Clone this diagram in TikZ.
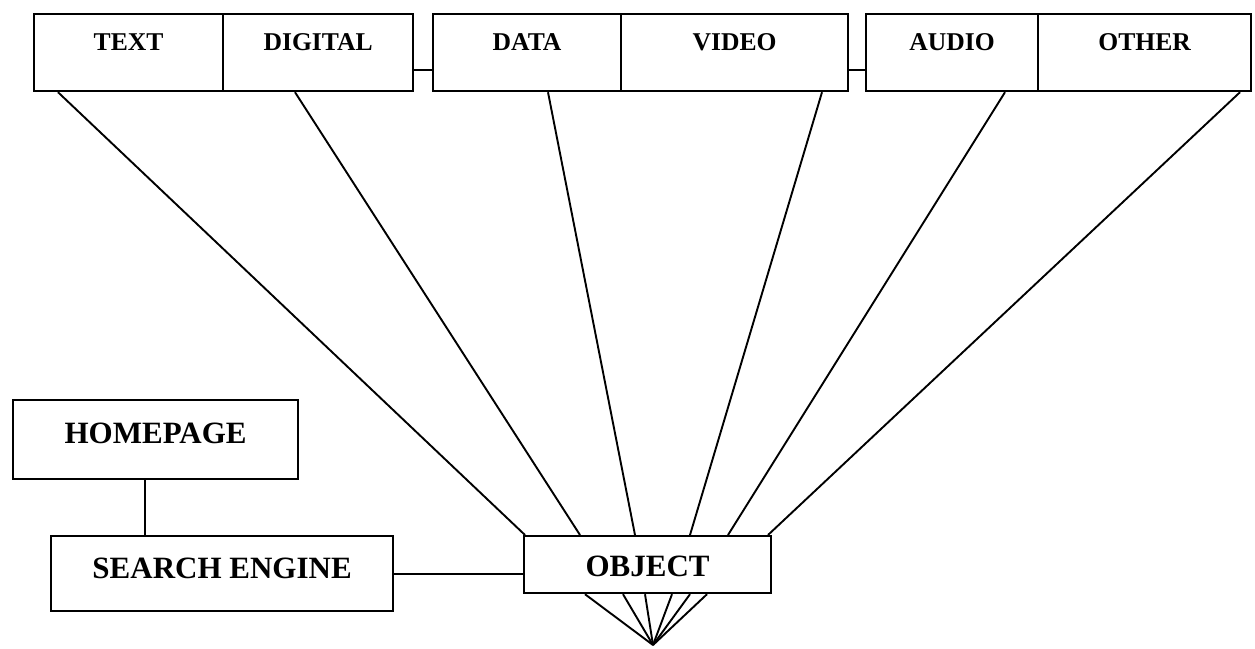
\documentclass[tikz,border=0pt]{standalone}
\usepackage{fontspec}
\setmainfont{Liberation Serif}
\begin{document}
\begin{tikzpicture}[x=1pt,y=-1pt,
  box/.style={draw,line width=2.2pt,inner sep=0pt,font=\bfseries\fontsize{31}{31}\selectfont},
  topbox/.style={box,anchor=north west,minimum height=77pt,text height=36pt,text depth=41pt,font=\bfseries\fontsize{25.6}{26}\selectfont},
  conn/.style={line width=1.9pt}]
\useasboundingbox (0,0) rectangle (1255,648);
% top boxes
\node[topbox,minimum width=189pt] (text) at (33,13) {TEXT};
\node[topbox,minimum width=190pt] (digital) at (222,13) {DIGITAL};
\node[topbox,minimum width=188pt] (data) at (432,13) {DATA};
\node[topbox,minimum width=227pt] (video) at (620,13) {VIDEO};
\node[topbox,minimum width=172pt] (audio) at (865,13) {AUDIO};
\node[topbox,minimum width=213pt] (other) at (1037,13) {OTHER};
% lower boxes
\node[box,anchor=north west,minimum width=285pt,minimum height=79pt,text height=43pt,text depth=36pt] (hp) at (12,399) {HOMEPAGE};
\node[box,anchor=north west,minimum width=342pt,minimum height=75pt,text height=42pt,text depth=33pt] (se) at (50,535) {SEARCH ENGINE};
\node[box,anchor=north west,minimum width=247pt,minimum height=57pt,text height=40pt,text depth=17pt] (object) at (523,535) {OBJECT};
\coordinate (apex) at (653,645);
% group connectors
\draw[conn] ([yshift=-57pt]digital.north east) -- ([yshift=-57pt]data.north west);
\draw[conn] ([yshift=-57pt]video.north east) -- ([yshift=-57pt]audio.north west);
% fan to object
\draw[conn] ([xshift=25pt]text.south west) -- ([xshift=2pt]object.north west);
\draw[conn] ([xshift=73pt]digital.south west) -- ([xshift=57pt]object.north west);
\draw[conn] ([xshift=116pt]data.south west) -- ([xshift=112pt]object.north west);
\draw[conn] ([xshift=202pt]video.south west) -- ([xshift=167pt]object.north west);
\draw[conn] ([xshift=140pt]audio.south west) -- ([xshift=205pt]object.north west);
\draw[conn] ([xshift=203pt]other.south west) -- ([xshift=245pt]object.north west);
% bottom fan
\foreach \dx in {62,100,122,149,167,184}
  \draw[conn] ([xshift=\dx pt]object.south west) -- (apex);
% left connectors
\draw[conn] ([xshift=133pt]hp.south west) coordinate (h1) -- (h1 |- se.north);
\draw[conn] (se.east) -- (se.east -| object.west);
\end{tikzpicture}
\end{document}
